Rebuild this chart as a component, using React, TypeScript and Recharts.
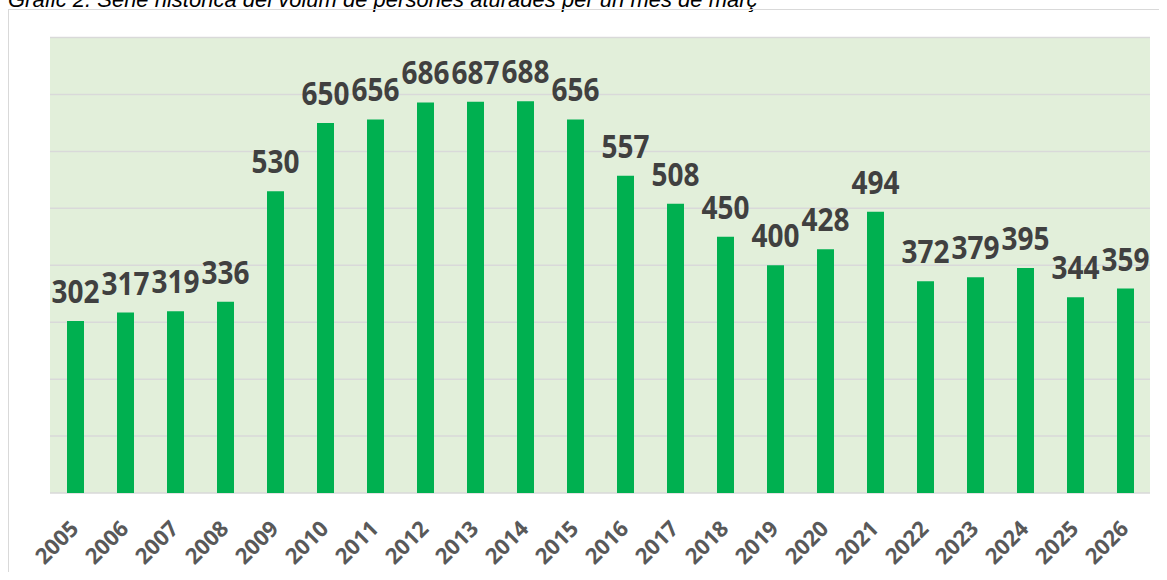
import React from 'react';
import { BarChart, Bar, XAxis, YAxis, CartesianGrid, LabelList } from 'recharts';

const years = [
  '2005', '2006', '2007', '2008', '2009', '2010', '2011', '2012', '2013', '2014', '2015',
  '2016', '2017', '2018', '2019', '2020', '2021', '2022', '2023', '2024', '2025', '2026',
];
const unemployed = [
  302, 317, 319, 336, 530, 650, 656, 686, 687, 688, 656,
  557, 508, 450, 400, 428, 494, 372, 379, 395, 344, 359,
];
const yTicks = [0, 100, 200, 300, 400, 500, 600, 700, 800];

const data = years.map((year, i) => ({ year, value: unemployed[i] }));

// Rotated year labels, anchored at their end like Excel does
const YearTick = (props: any) => {
  const { x, y, payload } = props;
  return (
    <g transform={`translate(${x + 5},${y + 29})`}>
      <text
        textAnchor="end"
        transform="rotate(-45)"
        fill="#595959"
        fontSize={22}
        fontWeight={700}
        fontFamily="'Open Sans', sans-serif"
      >
        {payload.value}
      </text>
    </g>
  );
};

// value label above each bar, slightly taller glyphs like the original
const ValueLabel = (props: any) => {
  const { x, y, width, value } = props;
  return (
    <text
      transform={`translate(${x + width / 2},${y - 18}) scale(1,1.15)`}
      textAnchor="middle"
      fill="#404040"
      fontSize={28}
      fontWeight={700}
      fontFamily="'Open Sans', sans-serif"
    >
      {value}
    </text>
  );
};

export default function App() {
  return (
    <>
      <div
        style={{
          position: 'absolute',
          top: -13,
          left: 8,
          fontFamily: "'Liberation Sans', Arial, sans-serif",
          fontStyle: 'italic',
          fontSize: 22,
          color: '#000',
          whiteSpace: 'nowrap',
        }}
      >
        Gràfic 2. Sèrie històrica del volum de persones aturades per un mes de març
      </div>
      <div style={{ position: 'relative', width: 1151, height: 564, overflow: 'hidden' }}>
        <div
          style={{
            position: 'absolute',
            left: 0,
            top: 1,
            width: 1200,
            height: 600,
            border: '1px solid #d9d9d9',
            boxSizing: 'border-box',
          }}
        />
        <div style={{ position: 'absolute', left: 0, top: 0 }}>
          <BarChart
            width={1151}
            height={564}
            data={data}
            margin={{ top: 29.5, right: 9, left: 42, bottom: 0 }}
          >
            <CartesianGrid vertical={false} stroke="#d9d9d9" strokeWidth={1.5} fill="#e2efda" />
            <XAxis
              dataKey="year"
              axisLine={false}
              tickLine={false}
              interval={0}
              height={79}
              tick={<YearTick />}
            />
            <YAxis hide width={0} domain={[0, 800]} ticks={yTicks} />
            <Bar dataKey="value" fill="#00b050" barSize={17} isAnimationActive={false}>
              <LabelList dataKey="value" content={<ValueLabel />} />
            </Bar>
          </BarChart>
        </div>
      </div>
    </>
  );
}
